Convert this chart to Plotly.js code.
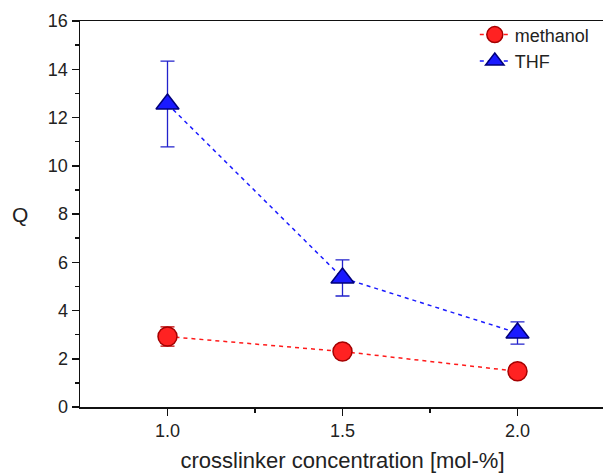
<!DOCTYPE html>
<html><head><meta charset="utf-8">
<script src="https://cdn.plot.ly/plotly-3.0.1.min.js"></script>
<style>html,body{margin:0;padding:0;overflow:hidden;background:#fff}</style>
</head><body>
<div id="chart" style="width:606px;height:474px"></div>
<script>
const concentration = [1.0, 1.5, 2.0];
const methanolQ = [2.92, 2.3, 1.48];
const methanolErr = [0.4, 0.12, 0.12];
const thfQ = [12.56, 5.35, 3.07];
const thfErr = [1.78, 0.75, 0.46];
const xTickVals = [1.0, 1.5, 2.0];
const xTickText = ['1.0', '1.5', '2.0'];

const traces = [
  {x: concentration, y: methanolQ, name: 'methanol', type: 'scatter', mode: 'lines+markers',
   line: {color: '#ff1a1a', width: 1.5, dash: '4px,4px'},
   marker: {symbol: 'circle', size: 19, color: '#ff2222', line: {color: '#a50000', width: 1.5}},
   error_y: {type: 'data', array: methanolErr, visible: true, color: '#c00000', thickness: 1.3, width: 7}},
  {x: concentration, y: thfQ, name: 'THF', type: 'scatter', mode: 'lines+markers',
   line: {color: '#1a1aff', width: 1.5, dash: '4px,4px'},
   marker: {symbol: 'triangle-up', size: 20, color: '#1a1aff', line: {color: '#00007a', width: 1.5}},
   error_y: {type: 'data', array: thfErr, visible: true, color: '#2222cc', thickness: 1.3, width: 7}}
];

const layout = {
  width: 606, height: 474,
  margin: {l: 80, r: 1, t: 21, b: 67},
  paper_bgcolor: '#fff', plot_bgcolor: '#fff',
  font: {family: 'Liberation Sans, Arial, sans-serif', size: 18, color: '#222'},
  showlegend: true,
  legend: {x: 0.752, y: 1.012, xanchor: 'left', yanchor: 'top', bgcolor: 'rgba(0,0,0,0)',
           font: {size: 18, color: '#222'}, tracegroupgap: 0, itemwidth: 30},
  xaxis: {range: [0.75, 2.25], tickvals: xTickVals, ticktext: xTickText,
          showgrid: false, zeroline: false, showline: true, linecolor: '#111', linewidth: 1.5,
          mirror: true, ticks: 'outside', ticklen: 7, tickwidth: 1.5, tickcolor: '#111',
          minor: {tickvals: [1.25, 1.75], ticks: 'outside', ticklen: 4, tickwidth: 1.5, tickcolor: '#111', showgrid: false},
          tickfont: {size: 18, color: '#222'},
          title: {text: 'crosslinker concentration [mol-%]', font: {size: 22, color: '#222'}, standoff: 12}},
  yaxis: {range: [0, 16], dtick: 2, tick0: 0,
          showgrid: false, zeroline: false, showline: true, linecolor: '#111', linewidth: 1.5,
          mirror: true, ticks: 'outside', ticklen: 7, tickwidth: 1.5, tickcolor: '#111',
          minor: {dtick: 1, ticks: 'outside', ticklen: 4, tickwidth: 1.5, tickcolor: '#111', showgrid: false},
          tickfont: {size: 18, color: '#222'}},
  annotations: [{text: 'Q', xref: 'paper', yref: 'paper', x: -0.115, y: 0.5,
                 xanchor: 'center', yanchor: 'middle', showarrow: false,
                 font: {size: 21, color: '#222'}}]
};
Plotly.newPlot('chart', traces, layout, {displayModeBar: false, staticPlot: true});
</script>
</body></html>
